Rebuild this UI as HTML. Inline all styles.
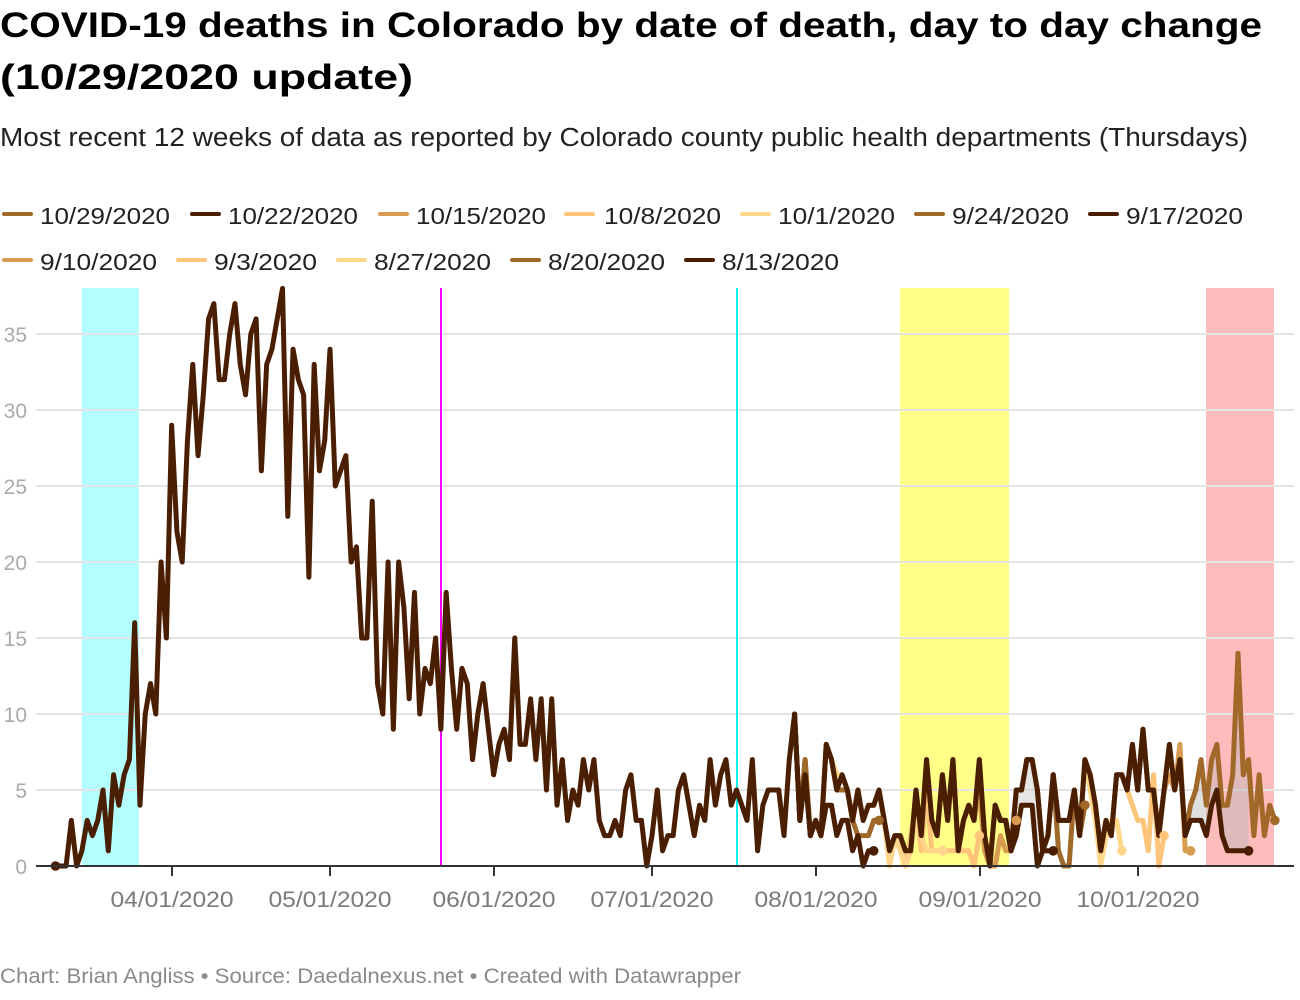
<!DOCTYPE html>
<html><head><meta charset="utf-8"><style>
html,body{margin:0;padding:0;background:#fff;}
svg{display:block;}
text{font-family:"Liberation Sans",Arial,sans-serif;}
</style></head><body>
<svg width="1300" height="1000" viewBox="0 0 1300 1000" xmlns="http://www.w3.org/2000/svg">
<rect width="1300" height="1000" fill="#fff"/>
<!-- titles -->
<text x="0" y="37" font-size="35" font-weight="bold" fill="#000" textLength="1262" lengthAdjust="spacingAndGlyphs">COVID-19 deaths in Colorado by date of death, day to day change</text>
<text x="0" y="89" font-size="35" font-weight="bold" fill="#000" textLength="413" lengthAdjust="spacingAndGlyphs">(10/29/2020 update)</text>
<text x="0" y="146" font-size="25.5" fill="#222" textLength="1248" lengthAdjust="spacingAndGlyphs">Most recent 12 weeks of data as reported by Colorado county public health departments (Thursdays)</text>
<!-- legend -->
<g stroke-width="4" stroke-linecap="round">
<line x1="4" y1="214" x2="31" y2="214" stroke="#a0692a"/>
<line x1="192" y1="214" x2="219" y2="214" stroke="#4a1e00"/>
<line x1="380" y1="214" x2="407" y2="214" stroke="#d89b52"/>
<line x1="566" y1="214" x2="593" y2="214" stroke="#fec57a"/>
<line x1="742" y1="214" x2="769" y2="214" stroke="#ffd68a"/>
<line x1="916" y1="214" x2="943" y2="214" stroke="#a0692a"/>
<line x1="1090" y1="214" x2="1117" y2="214" stroke="#4a1e00"/>
<line x1="4" y1="260" x2="31" y2="260" stroke="#d89b52"/>
<line x1="178" y1="260" x2="205" y2="260" stroke="#fec57a"/>
<line x1="338" y1="260" x2="365" y2="260" stroke="#ffd68a"/>
<line x1="512" y1="260" x2="539" y2="260" stroke="#a0692a"/>
<line x1="686" y1="260" x2="713" y2="260" stroke="#4a1e00"/>
</g>
<g font-size="23" fill="#222">
<text x="40" y="224" textLength="130" lengthAdjust="spacingAndGlyphs">10/29/2020</text>
<text x="228" y="224" textLength="130" lengthAdjust="spacingAndGlyphs">10/22/2020</text>
<text x="416" y="224" textLength="130" lengthAdjust="spacingAndGlyphs">10/15/2020</text>
<text x="604" y="224" textLength="117" lengthAdjust="spacingAndGlyphs">10/8/2020</text>
<text x="778" y="224" textLength="117" lengthAdjust="spacingAndGlyphs">10/1/2020</text>
<text x="952" y="224" textLength="117" lengthAdjust="spacingAndGlyphs">9/24/2020</text>
<text x="1126" y="224" textLength="117" lengthAdjust="spacingAndGlyphs">9/17/2020</text>
<text x="40" y="270" textLength="117" lengthAdjust="spacingAndGlyphs">9/10/2020</text>
<text x="214" y="270" textLength="103" lengthAdjust="spacingAndGlyphs">9/3/2020</text>
<text x="374" y="270" textLength="117" lengthAdjust="spacingAndGlyphs">8/27/2020</text>
<text x="548" y="270" textLength="117" lengthAdjust="spacingAndGlyphs">8/20/2020</text>
<text x="722" y="270" textLength="117" lengthAdjust="spacingAndGlyphs">8/13/2020</text>
</g>
<!-- bands -->
<rect x="82" y="288" width="57" height="578" fill="#b3ffff"/>
<rect x="900" y="288" width="109" height="578" fill="#ffff88"/>
<rect x="1206" y="288" width="68" height="578" fill="#ffbcbc"/>
<!-- gridlines -->
<g stroke="#e4e4e4" stroke-width="2">
<line x1="36" y1="334" x2="1294" y2="334"/>
<line x1="36" y1="410" x2="1294" y2="410"/>
<line x1="36" y1="486" x2="1294" y2="486"/>
<line x1="36" y1="562" x2="1294" y2="562"/>
<line x1="36" y1="638" x2="1294" y2="638"/>
<line x1="36" y1="714" x2="1294" y2="714"/>
<line x1="36" y1="790" x2="1294" y2="790"/>
</g>
<!-- vertical lines -->
<line x1="441" y1="288" x2="441" y2="866" stroke="#ff00ff" stroke-width="2"/>
<line x1="737" y1="288" x2="737" y2="866" stroke="#11eeee" stroke-width="2"/>
<!-- y labels -->
<g font-size="21" fill="#aaa" text-anchor="end">
<text x="27" y="342">35</text>
<text x="27" y="418">30</text>
<text x="27" y="494">25</text>
<text x="27" y="570">20</text>
<text x="27" y="646">15</text>
<text x="27" y="722">10</text>
<text x="27" y="798">5</text>
<text x="27" y="874">0</text>
</g>
<!-- data -->
<g transform="translate(55.5 866) scale(5.279 -15.2)" fill="none" stroke-width="5" stroke-linejoin="round" stroke-linecap="round">
<polygon vector-effect="non-scaling-stroke" stroke="none" fill="#b8b8b8" fill-opacity="0.45" points="213,7 214,2 215,4 216,5 217,7 218,4 219,7 220,8 221,4 222,4 223,6 224,14 225,6 226,7 226,1 225,1 224,1 223,1 222,1 221,2 220,5 219,4 218,2 217,3 216,3 215,3 214,2 213,7"/>
<polygon vector-effect="non-scaling-stroke" stroke="none" fill="#c8c8c8" fill-opacity="0.45" points="182,5 183,5 184,7 185,7 186,5 186,0 185,4 184,4 183,4 182,2"/>
<!-- 10/29 -->
<polyline vector-effect="non-scaling-stroke" stroke="#a0692a" points="140,10 141,3 142,7 143,2 144,3 145,2 146,8 147,7 148,5 149,6 150,5 151,3 152,5 153,3 154,4 155,4 156,5 157,3 158,1 159,2 160,2 161,1 162,1 163,5 164,2 165,7 166,3 167,2 168,6 169,3 170,7 171,1 172,3 173,4 174,3 175,7 176,2 177,0 178,4 179,3 180,3 181,1 182,5 183,5 184,7 185,7 186,5 187,1 188,2 189,6 190,3 191,3 192,3 193,5 194,2 195,7 196,6 197,4 198,1 199,3 200,2 201,6 202,6 203,5 204,8 205,5 206,9 207,5 208,5 209,2 210,5 211,8 212,5 213,7 214,2 215,4 216,5 217,7 218,4 219,7 220,8 221,4 222,4 223,6 224,14 225,6 226,7 227,2 228,6 229,2 230,4 231,3"/>
<!-- light ones -->
<polyline vector-effect="non-scaling-stroke" stroke="#fec57a" points="201,6 202,6 203,5 204,4 205,3 206,3 207,1 208,6 209,0 210,2"/>
<polyline vector-effect="non-scaling-stroke" stroke="#ffd68a" points="193,5 194,2 195,7 196,5 197,3 198,0 199,2 200,3 201,3 202,1"/>
<polyline vector-effect="non-scaling-stroke" stroke="#fec57a" points="156,5 157,3 158,0 159,2 160,2 161,0 162,2 163,4 164,1 165,5 166,1 167,1 168,1 169,1 170,1 171,1 172,1 173,1 174,0 175,2"/>
<polyline vector-effect="non-scaling-stroke" stroke="#ffd68a" points="145,2 146,8 147,7 148,6 149,6 150,5 151,3 152,5 153,3 154,4 155,4 156,5 157,3 158,0 159,2 160,1 161,0 162,1 163,3 164,2 165,1 166,1 167,1 168,1"/>
<!-- tan -->
<polyline vector-effect="non-scaling-stroke" stroke="#d89b52" points="208,5 209,2 210,5 211,6 212,5 213,8 214,1 215,1"/>
<polyline vector-effect="non-scaling-stroke" stroke="#d89b52" points="170,7 171,1 172,3 173,4 174,3 175,5 176,1 177,0 178,0 179,2 180,1 181,1 182,3"/>
<!-- browns -->
<polyline vector-effect="non-scaling-stroke" stroke="#a0692a" points="186,5 187,1 188,2 189,6 190,1 191,0 192,0 193,5 194,2 195,4"/>
<polyline vector-effect="non-scaling-stroke" stroke="#a0692a" points="141,3 142,7 143,2 144,3 145,2 146,8 147,7 148,5 149,5 150,5 151,3 152,2 153,2 154,2 155,3 156,3"/>
<!-- darks -->
<polyline vector-effect="non-scaling-stroke" stroke="#4a1e00" points="145,2 146,8 147,7 148,5 149,6 150,5 151,3 152,5 153,3 154,4 155,4 156,5 157,3 158,1 159,2 160,2 161,1 162,1 163,5 164,2 165,7 166,3 167,2 168,6 169,3 170,7 171,1 172,3 173,4 174,3 175,7 176,2 177,0 178,4 179,3 180,3 181,1 182,5 183,5 184,7 185,7 186,5 187,1 188,2 189,6 190,3 191,3 192,3 193,5 194,2 195,7 196,6 197,4 198,1 199,3 200,2 201,6 202,6 203,5 204,8 205,5 206,9 207,5 208,5 209,2 210,5 211,8 212,5 213,7 214,2 215,3 216,3 217,3 218,2 219,4 220,5 221,2 222,1 223,1 224,1 225,1 226,1"/>
<polyline vector-effect="non-scaling-stroke" stroke="#4a1e00" points="178,4 179,3 180,3 181,1 182,2 183,4 184,4 185,4 186,0 187,1 188,1 189,1"/>
<polyline vector-effect="non-scaling-stroke" stroke="#4a1e00" points="140,10 141,3 142,6 143,2 144,3 145,2 146,4 147,4 148,2 149,3 150,3 151,1 152,2 153,0 154,1 155,1"/>
<!-- base -->
<polyline vector-effect="non-scaling-stroke" stroke="#4a1e00" points="0,0 1,0 2,0 3,3 4,0 5,1 6,3 7,2 8,3 9,5 10,1 11,6 12,4 13,6 14,7 15,16 16,4 17,10 18,12 19,10 20,20 21,15 22,29 23,22 24,20 25,28 26,33 27,27 28,31 29,36 30,37 31,32 32,32 33,35 34,37 35,33 36,31 37,35 38,36 39,26 40,33 41,34 42,36 43,38 44,23 45,34 46,32 47,31 48,19 49,33 50,26 51,28 52,34 53,25 54,26 55,27 56,20 57,21 58,15 59,15 60,24 61,12 62,10 63,20 64,9 65,20 66,17 67,11 68,18 69,10 70,13 71,12 72,15 73,9 74,18 75,13 76,9 77,13 78,12 79,7 80,10 81,12 82,9 83,6 84,8 85,9 86,7 87,15 88,8 89,8 90,11 91,7 92,11 93,5 94,11 95,4 96,7 97,3 98,5 99,4 100,7 101,5 102,7 103,3 104,2 105,2 106,3 107,2 108,5 109,6 110,3 111,3 112,0 113,2 114,5 115,1 116,2 117,2 118,5 119,6 120,4 121,2 122,4 123,3 124,7 125,4 126,6 127,7 128,4 129,5 130,4 131,3 132,7 133,1 134,4 135,5 136,5 137,5 138,2 139,7 140,10 141,3 142,6 143,2 144,3 145,2"/>
</g>
<!-- end dots -->
<g>
<circle cx="55.5" cy="866" r="4.8" fill="#4a1e00"/>
<circle cx="873.7" cy="850.8" r="4.8" fill="#4a1e00"/>
<circle cx="879" cy="820.4" r="4.8" fill="#a0692a"/>
<circle cx="942.4" cy="850.8" r="4.8" fill="#ffd68a"/>
<circle cx="979.3" cy="835.6" r="4.8" fill="#fec57a"/>
<circle cx="1016.3" cy="820.4" r="4.8" fill="#d89b52"/>
<circle cx="1053.2" cy="850.8" r="4.8" fill="#4a1e00"/>
<circle cx="1084.9" cy="805.2" r="4.8" fill="#a0692a"/>
<circle cx="1121.9" cy="850.8" r="4.8" fill="#ffd68a"/>
<circle cx="1164.1" cy="835.6" r="4.8" fill="#fec57a"/>
<circle cx="1190.5" cy="850.8" r="4.8" fill="#d89b52"/>
<circle cx="1248.6" cy="850.8" r="4.8" fill="#4a1e00"/>
<circle cx="1274.9" cy="820.4" r="4.8" fill="#a0692a"/>
</g>
<!-- x axis -->
<line x1="36" y1="866" x2="1294" y2="866" stroke="#333" stroke-width="2"/>
<g stroke="#333" stroke-width="2">
<line x1="172" y1="866" x2="172" y2="876"/>
<line x1="330" y1="866" x2="330" y2="876"/>
<line x1="494" y1="866" x2="494" y2="876"/>
<line x1="652" y1="866" x2="652" y2="876"/>
<line x1="816" y1="866" x2="816" y2="876"/>
<line x1="980" y1="866" x2="980" y2="876"/>
<line x1="1138" y1="866" x2="1138" y2="876"/>
</g>
<g font-size="22" fill="#7a7a7a" text-anchor="middle">
<text x="172" y="907" textLength="123" lengthAdjust="spacingAndGlyphs">04/01/2020</text>
<text x="330" y="907" textLength="123" lengthAdjust="spacingAndGlyphs">05/01/2020</text>
<text x="494" y="907" textLength="123" lengthAdjust="spacingAndGlyphs">06/01/2020</text>
<text x="652" y="907" textLength="123" lengthAdjust="spacingAndGlyphs">07/01/2020</text>
<text x="816" y="907" textLength="123" lengthAdjust="spacingAndGlyphs">08/01/2020</text>
<text x="980" y="907" textLength="123" lengthAdjust="spacingAndGlyphs">09/01/2020</text>
<text x="1138" y="907" textLength="123" lengthAdjust="spacingAndGlyphs">10/01/2020</text>
</g>
<!-- footer -->
<text x="0" y="983" font-size="21" fill="#8a8a8a" textLength="741" lengthAdjust="spacingAndGlyphs">Chart: Brian Angliss • Source: Daedalnexus.net • Created with Datawrapper</text>
</svg>
</body></html>
